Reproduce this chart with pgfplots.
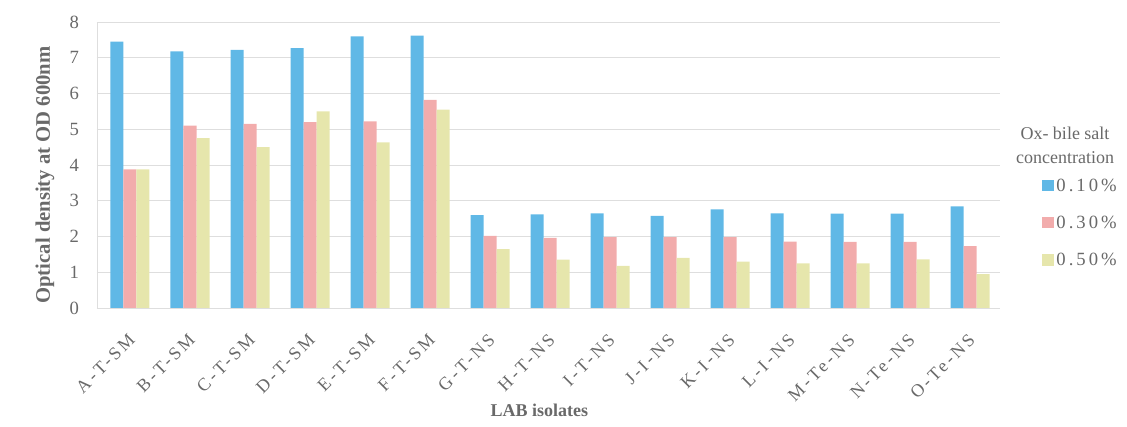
\documentclass[border=0pt]{standalone}
\usepackage{pgfplots}
\pgfplotsset{compat=1.18}
\usepackage{fontspec}
\setmainfont{Liberation Serif}
\definecolor{cblue}{RGB}{96,184,230}
\definecolor{cpink}{RGB}{242,172,172}
\definecolor{cyel}{RGB}{230,230,172}
\definecolor{ctxt}{RGB}{105,105,105}
\definecolor{cgrid}{RGB}{222,222,222}
\pgfplotstableread{
x  a     b     c
0  7.45  3.88  3.88
1  7.18  5.10  4.75
2  7.22  5.15  4.50
3  7.27  5.20  5.50
4  7.60  5.22  4.63
5  7.62  5.82  5.55
6  2.60  2.02  1.65
7  2.62  1.96  1.35
8  2.65  1.98  1.18
9  2.58  1.98  1.40
10 2.76  1.98  1.30
11 2.65  1.86  1.25
12 2.64  1.85  1.25
13 2.64  1.85  1.36
14 2.84  1.73  0.95
}\datatable
\begin{document}
\begin{tikzpicture}
\begin{axis}[name=ax,
  scale only axis, width=677.25pt, height=214.5pt,
  ybar=0pt, bar width=9.75pt,
  xmin=-0.55, xmax=14.5, ymin=0, ymax=8,
  ytick={0,1,...,8},
  xtick=data,
  xticklabels={A-T-SM,B-T-SM,C-T-SM,D-T-SM,E-T-SM,F-T-SM,G-T-NS,H-T-NS,I-T-NS,J-I-NS,K-I-NS,L-I-NS,M-Te-NS,N-Te-NS,O-Te-NS},
  /pgf/number format/assume math mode=true,
  axis lines*=left,
  axis line style={draw=cgrid},
  major tick length=0pt,
  ymajorgrids, grid style={draw=cgrid, line width=0.6pt},
  yticklabel style={font=\fontsize{14}{16}\selectfont, text=ctxt, xshift=-10pt},
  xticklabel shift=0pt,
  xticklabel style={font=\fontsize{13.5}{16}\selectfont\addfontfeatures{LetterSpace=16}, text=ctxt, rotate=45, anchor=east, inner sep=0pt},
  every x tick label/.append style={xshift=-14.3pt, yshift=-16.4pt},
  xlabel={\textbf{LAB isolates}},
  xlabel style={font=\fontsize{13.5}{16}\selectfont, text=ctxt, at={(axis description cs:0.49,-0.357)}, anchor=center},
  ylabel={\textbf{Optical density at OD 600nm}},
  ylabel style={font=\fontsize{15.5}{18}\selectfont, text=ctxt, at={(axis description cs:-0.0576,0.465)}, anchor=center},
  legend style={at={(1.046,0.462)}, anchor=north west, draw=none, fill=none,
    font=\fontsize{14}{16}\selectfont\addfontfeatures{LetterSpace=16}, text=ctxt, row sep=13pt, inner sep=0pt},
  legend cell align=left,
  legend image code/.code={\fill[#1] (-1pt,-4pt) rectangle (8pt,4.5pt);},
]
\addplot[fill=cblue, draw=none] table[x=x,y=a]{\datatable};
\addplot[fill=cpink, draw=none] table[x=x,y=b]{\datatable};
\addplot[fill=cyel, draw=none] table[x=x,y=c]{\datatable};
\legend{0.10\%,0.30\%,0.50\%}
\end{axis}
\node[align=center, text=ctxt, font=\fontsize{13.5}{18}\selectfont] at ([shift={(726pt,122.25pt)}]ax.south west) {Ox- bile salt\\concentration};
\pgfresetboundingbox
\path ([shift={(-72.75pt,-89.25pt)}]ax.south west) rectangle ++(845.25pt,320.25pt);
\end{tikzpicture}
\end{document}
